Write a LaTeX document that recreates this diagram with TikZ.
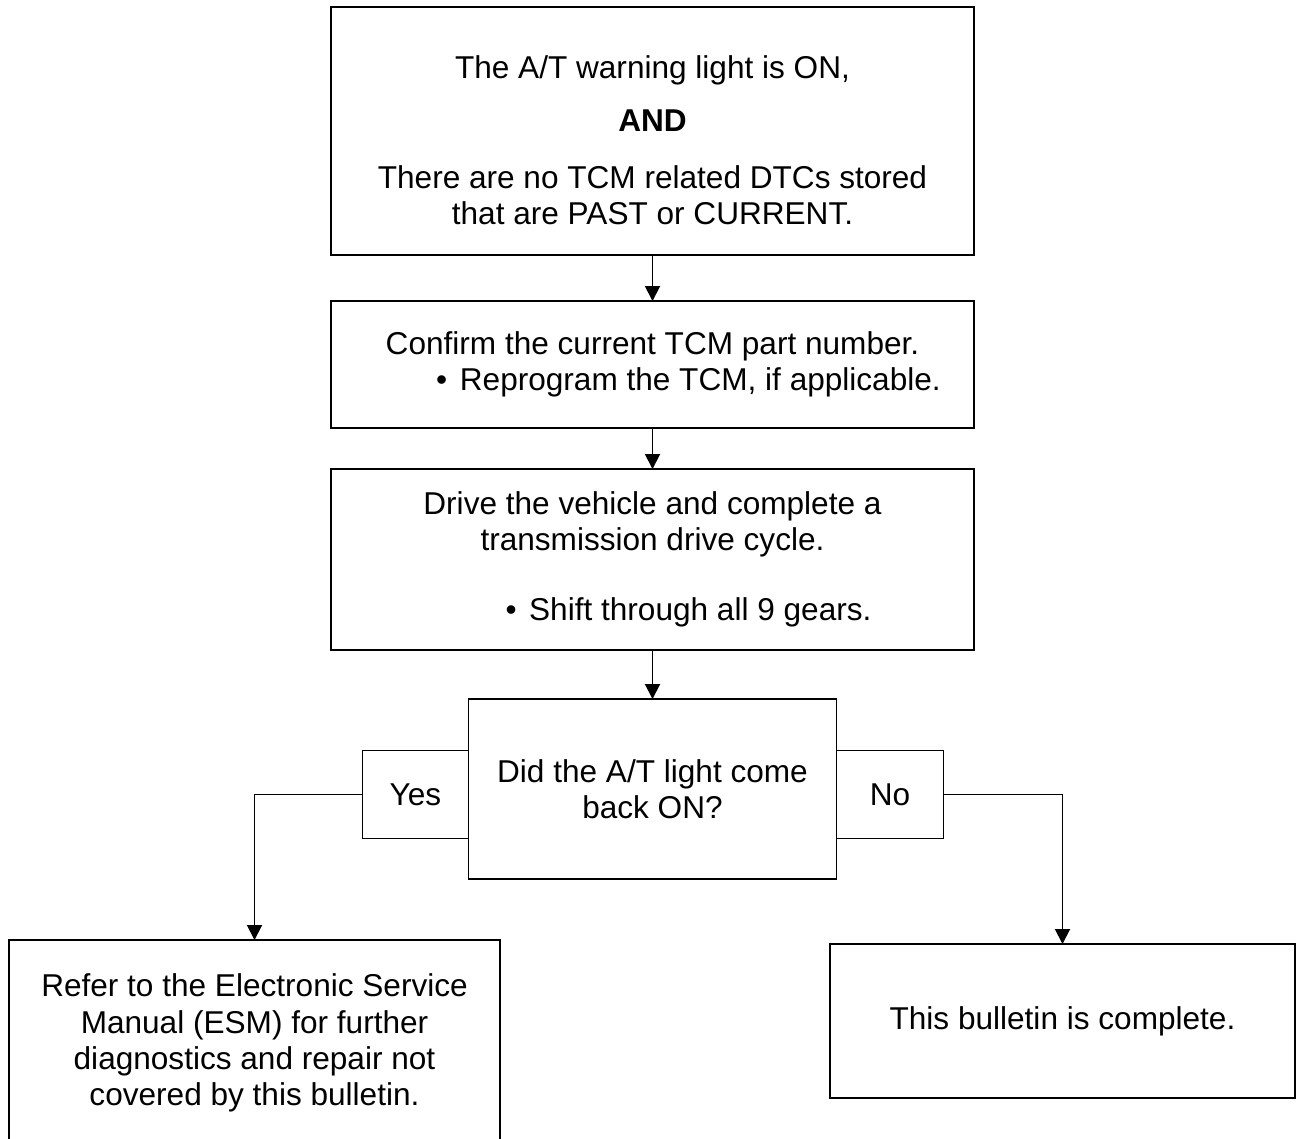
\documentclass[tikz,border=0pt]{standalone}
\usepackage{fontspec}
\setmainfont{Liberation Sans}
\usetikzlibrary{arrows.meta,positioning}

\newlength{\px}
\setlength{\px}{0.38pt}

\begin{document}
\begin{tikzpicture}[
    x=0.38pt, y=-0.38pt,
    font=\fontsize{12}{13.8}\selectfont,
    box/.style={rectangle, draw, line width=0.75pt, inner sep=0pt, outer sep=0pt, minimum width=643\px, align=center},
    tag/.style={rectangle, draw, line width=0.75pt, inner sep=0pt, outer sep=0pt, minimum height=88\px},
    arrow/.style={-{Triangle[length=5.7pt,width=5.7pt]}, line width=0.75pt}
]
    \path[use as bounding box, fill=white] (0,0) rectangle (1296,1139);

    \node[box, minimum height=248\px] (warning) at (652.5,131) {\rule{0pt}{15.6pt}The A/T warning light is ON,\\[6.3pt]\textbf{AND}\\[7.9pt]There are no TCM related DTCs stored\\that are PAST or CURRENT.};
    \node[box, minimum height=127\px, below=46\px of warning] (confirm) {Confirm the current TCM part number.\\\hspace*{72\px}\textbullet\hspace{4.8pt}Reprogram the TCM, if applicable.};
    \node[box, minimum height=181\px, below=41\px of confirm] (drive) {Drive the vehicle and complete a\\transmission drive cycle.\\[12.8pt]\hspace*{72\px}\textbullet\hspace{4.8pt}Shift through all 9 gears.};
    \node[box, minimum width=368\px, minimum height=180\px, below=49\px of drive] (backon) {Did the A/T light come\\back ON?};
    \node[tag, minimum width=106\px, anchor=east] (yes) at ([yshift=-5.5\px]backon.west) {Yes};
    \node[tag, minimum width=107\px, anchor=west] (no) at ([yshift=-5.5\px]backon.east) {No};
    \node[box, minimum width=491\px, minimum height=206\px] (refer) at (254.5,1043) {Refer to the Electronic Service\\Manual (ESM) for further\\diagnostics and repair not\\covered by this bulletin.};
    \node[box, minimum width=465\px, minimum height=154\px] (done) at (1062.5,1021) {This bulletin is complete.};

    \draw[arrow] (warning) -- (confirm);
    \draw[arrow] (confirm) -- (drive);
    \draw[arrow] (drive) -- (backon);
    \draw[arrow] (yes.west) -| (refer.north);
    \draw[arrow] (no.east) -| (done.north);
\end{tikzpicture}
\end{document}
